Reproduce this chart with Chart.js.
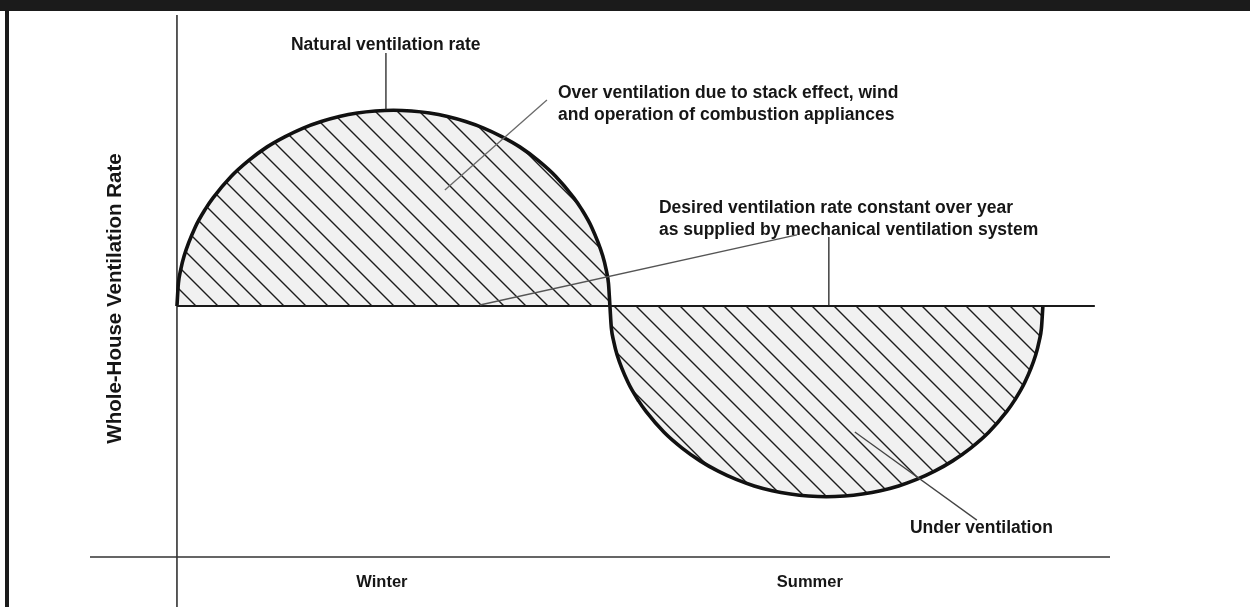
<!DOCTYPE html>
<html>
<head>
<meta charset="utf-8">
<script src="https://cdn.jsdelivr.net/npm/chart.js@4/dist/chart.umd.min.js"></script>
<style>
body { margin: 0; background: #fff; }
canvas { display: block; }
</style>
</head>
<body>
<canvas id="vent_chart" width="1250" height="607"></canvas>
<script>
// x = months from start of winter, y = ventilation rate relative to the desired rate
const curve_months = [0, 0.02, 0.05, 0.1, 0.25, 0.4, 0.5, 0.75, 1, 1.25, 1.5, 1.75, 2, 2.25, 2.5, 2.75, 3,
                      3.25, 3.5, 3.75, 4, 4.25, 4.5, 4.75, 5, 5.25, 5.5, 5.6, 5.75, 5.9, 5.95, 5.98,
                      6, 6.02, 6.05, 6.1, 6.25, 6.4, 6.5, 6.75, 7, 7.25, 7.5, 7.75, 8, 8.25, 8.5, 8.75, 9,
                      9.25, 9.5, 9.75, 10, 10.25, 10.5, 10.75, 11, 11.25, 11.5, 11.6, 11.75, 11.9, 11.95, 11.98, 12];
const curve_rate = [1.000, 1.090, 1.142, 1.200, 1.312, 1.389, 1.431, 1.516, 1.581, 1.634, 1.675, 1.709, 1.735, 1.755, 1.769, 1.777, 1.780,
                    1.777, 1.769, 1.755, 1.735, 1.709, 1.675, 1.634, 1.581, 1.516, 1.431, 1.389, 1.312, 1.200, 1.142, 1.090,
                    1.000, 0.912, 0.862, 0.805, 0.696, 0.621, 0.580, 0.497, 0.434, 0.383, 0.342, 0.309, 0.283, 0.264, 0.251, 0.243, 0.240,
                    0.243, 0.251, 0.264, 0.283, 0.309, 0.342, 0.383, 0.434, 0.497, 0.580, 0.621, 0.696, 0.805, 0.862, 0.912, 1.000];
const desired_months = [0, 12.72];
const desired_rate = [1, 1];

const season_labels = ["Winter", "Summer"];
const season_months = [2.84, 8.77];
const axis_title = "Whole-House Ventilation Rate";

const note_texts = [
    ["Natural ventilation rate"],
    ["Over ventilation due to stack effect, wind", "and operation of combustion appliances"],
    ["Desired ventilation rate constant over year", "as supplied by mechanical ventilation system"],
    ["Under ventilation"]
];

// where the notes sit, in chart units
const note_layout = [
    { x: 1.58, y: 2.04, leaders: [[2.896, 2.008, 2.896, 1.781, "#222"]] },
    { x: 5.28, y: 1.849, leaders: [[5.127, 1.821, 3.713, 1.462, "#6a6a6a"]] },
    { x: 6.679, y: 1.390, leaders: [[8.591, 1.283, 4.198, 1.004, "#555"], [9.034, 1.275, 9.034, 1.0, "#222"]] },
    { x: 10.157, y: 0.1155, leaders: [[11.085, 0.147, 9.394, 0.498, "#444"]] }
];

const FONT = "'Liberation Sans', Arial, sans-serif";

function to_points(xs, ys) {
    return xs.map( function (x, ind) { return { x: x, y: ys[ind] }; } );
}

function make_hatch(ctx) {
    const tile = document.createElement("canvas");
    tile.width = 22;
    tile.height = 22;
    const g = tile.getContext("2d");
    g.fillStyle = "#f1f1f1";
    g.fillRect(0, 0, 22, 22);
    g.strokeStyle = "#1c1c1c";
    g.lineWidth = 1.4;
    g.beginPath();
    g.moveTo(-2, -2); g.lineTo(24, 24);
    g.moveTo(-2, 20); g.lineTo(2, 24);
    g.moveTo(20, -2); g.lineTo(24, 2);
    g.stroke();
    return ctx.createPattern(tile, "repeat");
}

const diagram_plugin = {
    id: "diagram_plugin",
    beforeDraw: function (chart) {
        const ctx = chart.ctx;
        ctx.save();
        ctx.fillStyle = "#1b1b1b";
        ctx.fillRect(0, 0, chart.width, 11);
        ctx.fillRect(5, 11, 4, chart.height - 11);
        ctx.restore();
    },
    beforeDatasetsDraw: function (chart) {
        const ctx = chart.ctx;
        const xs = chart.scales.x;
        const ys = chart.scales.y;
        const area = chart.chartArea;
        ctx.save();
        ctx.strokeStyle = "#333";
        ctx.lineWidth = 1.6;
        ctx.beginPath();
        ctx.moveTo(area.left, ys.getPixelForValue(0));
        ctx.lineTo(area.right, ys.getPixelForValue(0));
        ctx.moveTo(xs.getPixelForValue(0), area.top);
        ctx.lineTo(xs.getPixelForValue(0), area.bottom);
        ctx.stroke();
        ctx.restore();
    },
    afterDatasetsDraw: function (chart) {
        const ctx = chart.ctx;
        const xs = chart.scales.x;
        const ys = chart.scales.y;
        ctx.save();

        note_layout.forEach( function (note, ind) {
            note.leaders.forEach( function (l) {
                ctx.strokeStyle = l[4];
                ctx.lineWidth = 1.3;
                ctx.beginPath();
                ctx.moveTo(xs.getPixelForValue(l[0]), ys.getPixelForValue(l[1]));
                ctx.lineTo(xs.getPixelForValue(l[2]), ys.getPixelForValue(l[3]));
                ctx.stroke();
            });
            ctx.fillStyle = "#161616";
            ctx.font = "bold 17.5px " + FONT;
            ctx.textAlign = "left";
            ctx.textBaseline = "middle";
            note_texts[ind].forEach( function (line, k) {
                ctx.fillText(line, xs.getPixelForValue(note.x), ys.getPixelForValue(note.y) + k * 22);
            });
        });

        ctx.font = "bold 16.5px " + FONT;
        ctx.textAlign = "center";
        season_labels.forEach( function (lab, ind) {
            ctx.fillText(lab, xs.getPixelForValue(season_months[ind]), ys.getPixelForValue(-0.1));
        });

        ctx.translate(xs.getPixelForValue(-0.86), ys.getPixelForValue(1.03));
        ctx.rotate(-Math.PI / 2);
        ctx.font = "bold 20.5px " + FONT;
        ctx.fillText(axis_title, 0, 0);
        ctx.restore();
    }
};

function main() {
    const canvas = document.getElementById("vent_chart");
    const ctx = canvas.getContext("2d");
    const hatch = make_hatch(ctx);

    const vent_chart = new Chart(ctx, {
        type: "line",
        data: {
            datasets: [
                {
                    label: "Desired ventilation rate",
                    data: to_points(desired_months, desired_rate),
                    borderColor: "#1a1a1a",
                    borderWidth: 2.2,
                    pointRadius: 0,
                    fill: false,
                    order: 0
                },
                {
                    label: "Natural ventilation rate",
                    data: to_points(curve_months, curve_rate),
                    borderColor: "#111",
                    borderWidth: 3.6,
                    pointRadius: 0,
                    cubicInterpolationMode: "monotone",
                    fill: { value: 1 },
                    backgroundColor: hatch,
                    order: 1
                }
            ]
        },
        options: {
            responsive: false,
            animation: false,
            layout: { padding: { left: 90, right: 140, top: 15, bottom: 0 } },
            plugins: { legend: { display: false }, tooltip: { enabled: false } },
            scales: {
                x: { type: "linear", min: -1.205, max: 12.93, display: false },
                y: { type: "linear", min: -0.1992, max: 2.1594, display: false }
            }
        },
        plugins: [diagram_plugin]
    });
}

main();
</script>
</body>
</html>
